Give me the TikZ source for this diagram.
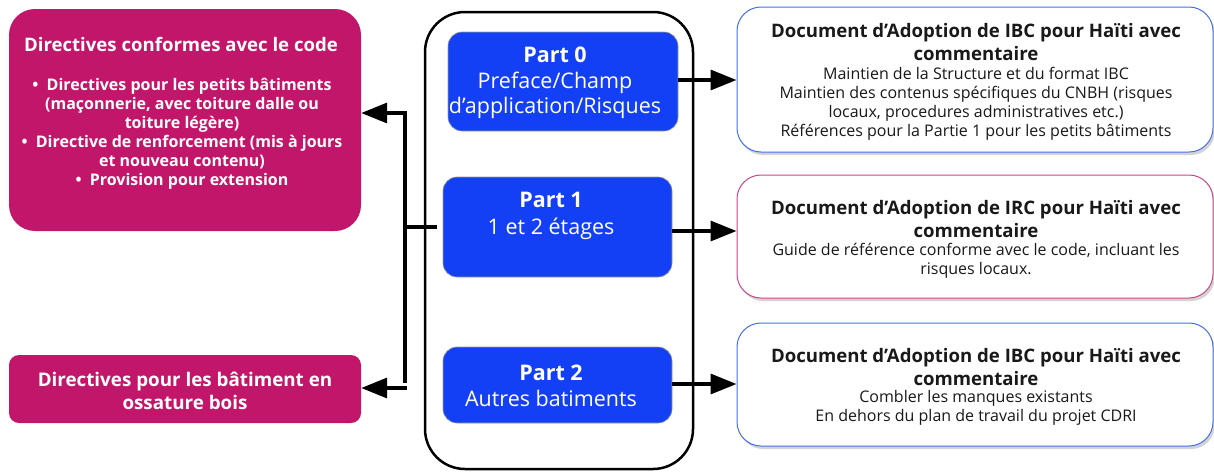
\documentclass[tikz,border=0pt]{standalone}
\usepackage{fontspec}
\setmainfont{Open Sans}
\usetikzlibrary{arrows.meta,shadows}
\definecolor{pinkc}{RGB}{194,22,106}
\definecolor{bluec}{RGB}{20,64,245}
\definecolor{bluebd}{RGB}{70,110,240}
\definecolor{pinkbd}{RGB}{205,70,135}
\definecolor{txt}{RGB}{25,25,25}
\begin{document}
\begin{tikzpicture}[x=1pt,y=-1pt,
  pinkbox/.style={fill=pinkc,draw=none,minimum width=352pt,inner sep=0pt},
  partbox/.style={fill=bluec,draw=black!40,line width=0.6pt,rounded corners=14pt,inner sep=0pt},
  parttext/.style={inner sep=0pt,text=white,align=center},
  docbox/.style={fill=white,line width=1pt,rounded corners=24pt,minimum width=476pt,inner sep=0pt,
     drop shadow={opacity=0.35,shadow xshift=2pt,shadow yshift=-3pt}},
  doctitle/.style={inner sep=0pt,align=center,text=txt,font=\bfseries\fontsize{18.6}{23}\selectfont},
  docbody/.style={inner sep=0pt,align=center,text=txt,font=\fontsize{16}{19}\selectfont},
  conn/.style={line width=3.4pt},
  arr/.style={line width=3.4pt,-{Triangle[length=26pt,width=20pt]}}
]
\useasboundingbox (0,0) rectangle (1214,472);

% left pink boxes
\node[pinkbox,minimum height=222pt,rounded corners=26pt] (pk1) at (185,120) {};
\node[inner sep=0pt,text=white,font=\bfseries\fontsize{18.6}{22}\selectfont] (pk1t) at (181,44) {Directives conformes avec le code};
\node[inner sep=0pt,text=white,align=center,font=\bfseries\fontsize{16}{19}\selectfont] (pk1b) at (182,134)
 {\textbullet\ \ Directives pour les petits bâtiments\\ (maçonnerie, avec toiture dalle ou\\ toiture légère)\\
  \textbullet\ \ Directive de renforcement (mis à jours\\ et nouveau contenu)\\ \textbullet\ \ Provision pour extension};
\node[pinkbox,minimum height=68pt,rounded corners=10pt] (pk2) at (185,389) {};
\node[inner sep=0pt,text=white,align=center,font=\bfseries\fontsize{18.8}{23}\selectfont] (pk2t) at (185,391)
 {Directives pour les bâtiment en\\ ossature bois};

% center container
\node[draw=black,line width=2.5pt,rounded corners=40pt,minimum width=268pt,minimum height=457pt,inner sep=0pt] (cont) at (559,240.5) {};

\node[partbox,minimum width=230pt,minimum height=99pt] (p0) at (563,81.5) {};
\node[parttext,font=\fontsize{21.5}{25.5}\selectfont] (p0t) at (555,83)
 {\textbf{Part 0}\\ Preface/Champ\\ d’application/Risques};
\node[partbox,minimum width=229pt,minimum height=100pt] (p1) at (557.5,227) {};
\node[parttext,font=\fontsize{21.5}{27}\selectfont] (p1t) at (551,216)
 {\textbf{Part 1}\\ 1 et 2 étages};
\node[partbox,minimum width=229pt,minimum height=76pt] (p2) at (557.5,385) {};
\node[parttext,font=\fontsize{21.5}{26}\selectfont] (p2t) at (551,386)
 {\textbf{Part 2}\\ Autres batiments};

% right document boxes
\node[docbox,draw=bluebd,minimum height=145pt] (dA) at (975,79.5) {};
\node[doctitle] (dAt) at (976,42) {Document d’Adoption de IBC pour Haïti avec\\ commentaire};
\node[docbody] (dAb) at (976,103.5) {Maintien de la Structure et du format IBC\\ Maintien des contenus spécifiques du CNBH (risques\\ locaux, procedures administratives etc.)\\ Références pour la Partie 1 pour les petits bâtiments};

\node[docbox,draw=pinkbd,minimum height=123pt] (dB) at (975,236.5) {};
\node[doctitle] (dBt) at (976,219) {Document d’Adoption de IRC pour Haïti avec\\ commentaire};
\node[docbody] (dBb) at (976,261) {Guide de référence conforme avec le code, incluant les\\ risques locaux.};

\node[docbox,draw=bluebd,minimum height=123pt] (dC) at (975,384.5) {};
\node[doctitle] (dCt) at (976,367) {Document d’Adoption de IBC pour Haïti avec\\ commentaire};
\node[docbody] (dCb) at (976,408) {Combler les manques existants\\ En dehors du plan de travail du projet CDRI};

% connectors right
\draw[arr] (p0.east |- 0,80) -- (dA.west |- 0,80);
\draw[arr] (p1.east |- 0,231) -- (dB.west |- 0,231);
\draw[arr] (p2.east |- 0,384) -- (dC.west |- 0,384);

% connectors left
\coordinate (jn) at (405,227);
\coordinate (jt) at (405,113);
\coordinate (jb) at (405,388);
\draw[conn] ([xshift=-6pt]p1.west) -- (jn);
\draw[conn] ([yshift=-1.7pt]jt) -- ([yshift=5pt]jb);
\draw[arr] ([xshift=1.7pt]jt) -- (pk1.east |- jt);
\draw[arr] ([xshift=1.7pt]jb) -- (pk2.east |- jb);
\end{tikzpicture}
\end{document}
